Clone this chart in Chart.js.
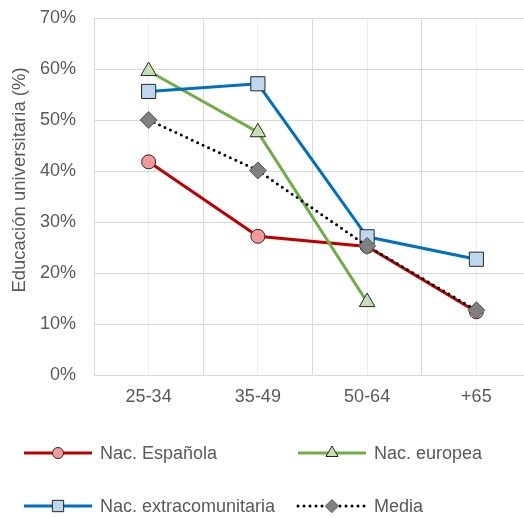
<!DOCTYPE html>
<html>
<head>
<meta charset="utf-8">
<script src="https://cdn.jsdelivr.net/npm/chart.js@4"></script>
<style>
  html, body { margin: 0; padding: 0; background: #fff; overflow: hidden; }
  #wrap { width: 542px; height: 518px; }
</style>
</head>
<body>
<div id="wrap"><canvas id="myChart" width="542" height="518"></canvas></div>
<script>
// Datos
const grupos = ['25-34', '35-49', '50-64', '+65'];
const espanola = [41.8, 27.2, 25.2, 12.4];
const europea = [59.6, 47.6, 14.3, null];
const extracom = [55.6, 57.1, 27.1, 22.7];
const media = [50.0, 40.1, 25.3, 12.7];
const ticksY = [0, 10, 20, 30, 40, 50, 60, 70];
const tituloY = 'Educación universitaria (%)';

const gris = '#595959';
const fuente = 'Liberation Sans, Arial, sans-serif';

const series = [
  { label: 'Nac. Española', data: espanola, color: '#c00000', fill: '#f4999a', style: 'circle', r: 7, lr: 5.5, order: 3 },
  { label: 'Nac. europea', data: europea, color: '#70ad47', fill: '#c5e0b4', style: 'triangle', r: 9, lr: 7, order: 2 },
  { label: 'Nac. extracomunitaria', data: extracom, color: '#0070c0', fill: '#bdd7ee', style: 'rect', r: 10, lr: 8, order: 1 },
  { label: 'Media', data: media, color: '#000000', fill: '#808080', style: 'rectRot', r: 8.5, lr: 6.5, dotted: true, order: 0 }
];

// Titulo del eje Y y leyenda dibujados a mano (linea + marcador en el centro)
const extras = {
  id: 'extras',
  afterDraw(chart) {
    const c = chart.ctx;
    c.save();
    c.translate(20, 180);
    c.rotate(-Math.PI / 2);
    c.fillStyle = gris;
    c.font = '18.5px ' + fuente;
    c.textAlign = 'center';
    c.textBaseline = 'middle';
    c.fillText(tituloY, 0, 0);
    c.restore();

    const pos = [[24, 453], [298, 453], [24, 506], [298, 506]];
    series.forEach((s, i) => {
      const [x, y] = pos[i];
      c.save();
      c.strokeStyle = s.color;
      c.lineWidth = 3;
      if (s.dotted) {
        c.setLineDash([0, 6]);
        c.lineCap = 'round';
      }
      c.beginPath();
      c.moveTo(x, y);
      c.lineTo(x + 68, y);
      c.stroke();
      c.setLineDash([]);
      c.fillStyle = s.fill;
      c.strokeStyle = s.dotted ? '#595959' : '#262626';
      c.lineWidth = 1;
      Chart.helpers.drawPoint(c, { pointStyle: s.style, radius: s.lr, rotation: 0, borderWidth: 1 }, x + 34, y);
      c.fillStyle = gris;
      c.font = '18px ' + fuente;
      c.textBaseline = 'middle';
      c.fillText(s.label, x + 76, y + 1);
      c.restore();
    });
  }
};

const ctx = document.getElementById('myChart');

new Chart(ctx, {
  type: 'line',
  data: {
    labels: grupos,
    datasets: series.map(s => ({
      label: s.label,
      data: s.data,
      order: s.order,
      borderColor: s.color,
      borderWidth: 3,
      borderDash: s.dotted ? [0, 6] : [],
      borderCapStyle: s.dotted ? 'round' : 'butt',
      pointStyle: s.style,
      pointRadius: s.r,
      pointBackgroundColor: s.fill,
      pointBorderColor: s.dotted ? '#595959' : '#262626',
      pointBorderWidth: 1,
      tension: 0,
      spanGaps: false
    }))
  },
  options: {
    responsive: false,
    animation: false,
    devicePixelRatio: 1,
    layout: { padding: { top: 18, right: 6, bottom: 100, left: 0 } },
    plugins: {
      legend: { display: false },
      tooltip: { enabled: false }
    },
    scales: {
      x: {
        offset: true,
        grid: { offset: true, color: '#d9d9d9', lineWidth: 1, drawTicks: false },
        border: { color: '#d9d9d9' },
        ticks: { color: gris, font: { family: fuente, size: 18 }, padding: 11 },
        afterFit(scale) { scale.height = 43; }
      },
      x2: {
        type: 'category',
        labels: grupos,
        offset: true,
        position: 'bottom',
        grid: { offset: false, color: '#eeeeee', lineWidth: 1, drawTicks: false },
        border: { display: false },
        ticks: { display: false },
        afterFit(scale) { scale.height = 0; }
      },
      y: {
        min: 0,
        max: 70,
        afterBuildTicks(scale) { scale.ticks = ticksY.map(v => ({ value: v })); },
        grid: { color: '#d9d9d9', drawTicks: false },
        border: { color: '#d9d9d9' },
        ticks: {
          color: gris,
          font: { family: fuente, size: 18 },
          padding: 18,
          callback: v => v + '%'
        },
        afterFit(scale) {
          scale.width = 94;
          scale.paddingTop = 0;
          scale.paddingBottom = 0;
        }
      }
    }
  },
  plugins: [extras]
});
</script>
</body>
</html>
